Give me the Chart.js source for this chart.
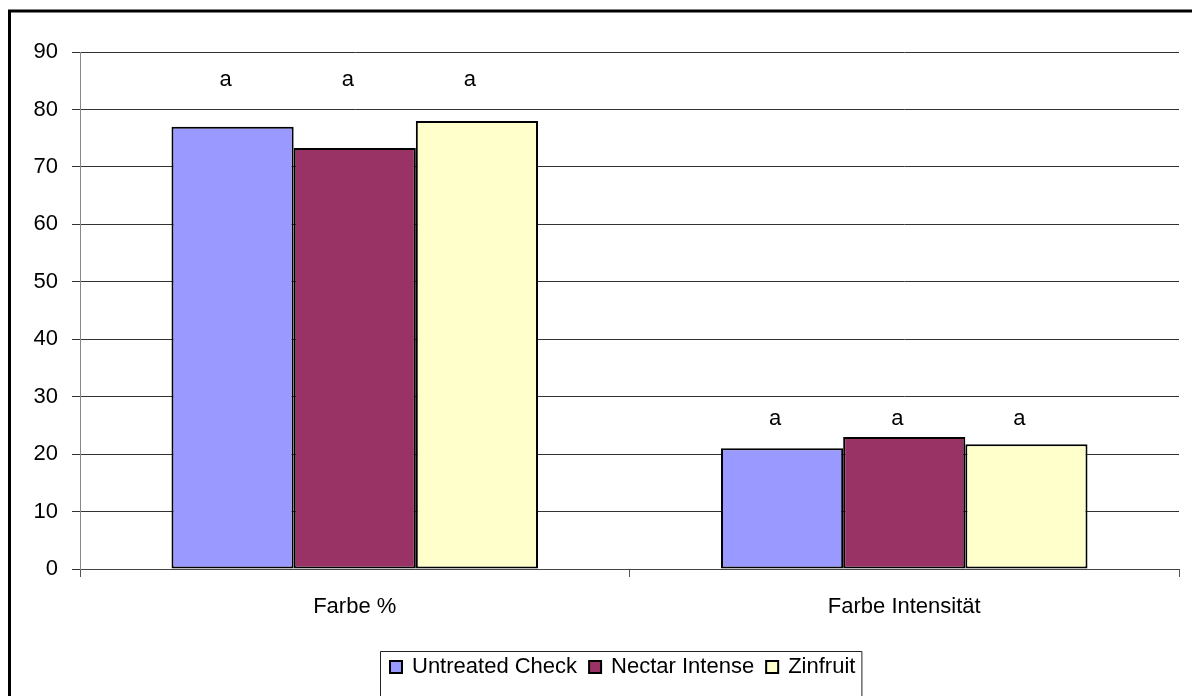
<!DOCTYPE html>
<html>
<head>
<meta charset="utf-8">
<script src="https://cdn.jsdelivr.net/npm/chart.js@4.4.1/dist/chart.umd.min.js"></script>
<style>
  html, body { margin: 0; padding: 0; background: #fff; overflow: hidden; }
  #wrap { width: 1192px; height: 696px; position: relative; overflow: hidden; }
  canvas { display: block; }
</style>
</head>
<body>
<div id="wrap"><canvas id="c" width="1192" height="696"></canvas></div>
<script>
// Categories and series
const categories = ['Farbe %', 'Farbe Intensität'];
const untreatedCheck = [77.0, 21.0];
const nectarIntense = [73.3, 23.0];
const zinfruit = [78.0, 21.7];
const seriesNames = ['Untreated Check', 'Nectar Intense', 'Zinfruit'];
const seriesColors = ['#9999FF', '#993366', '#FFFFCC'];
// Significance letters per series / category, and the height (in axis units) they sit at
const letters = [['a', 'a'], ['a', 'a'], ['a', 'a']];
const letterLevel = [84.8, 25.8];
const yTicks = [0, 10, 20, 30, 40, 50, 60, 70, 80, 90];

const FONT = 'Liberation Sans, Arial, sans-serif';
const FSIZE = 22;

const decor = {
  id: 'decor',
  afterDatasetsDraw(chart) {
    const ctx = chart.ctx;
    const y = chart.scales.y;
    ctx.save();
    // letters above each bar
    ctx.font = FSIZE + 'px ' + FONT;
    ctx.fillStyle = '#000';
    ctx.textAlign = 'center';
    ctx.textBaseline = 'middle';
    chart.data.datasets.forEach((ds, i) => {
      const meta = chart.getDatasetMeta(i);
      meta.data.forEach((bar, j) => {
        ctx.fillText(letters[i][j], bar.x - 7, y.getPixelForValue(letterLevel[j]) - 2);
      });
    });
    ctx.restore();
  },
  afterDraw(chart) {
    const ctx = chart.ctx;
    ctx.save();
    // outer frame: left and top edges
    ctx.strokeStyle = '#000';
    ctx.lineWidth = 3;
    ctx.beginPath();
    ctx.moveTo(9.5, 700);
    ctx.lineTo(9.5, 11);
    ctx.lineTo(1210, 11);
    ctx.stroke();

    // legend box
    ctx.font = FSIZE + 'px ' + FONT;
    ctx.textBaseline = 'middle';
    ctx.textAlign = 'left';
    const cy = 667;
    const sq = 12;
    let xx = 390;
    const items = chart.data.datasets.map(d => ({ label: d.label, color: d.backgroundColor }));
    const parts = [];
    items.forEach((it) => {
      const w = ctx.measureText(it.label).width;
      parts.push({ x: xx, w, it });
      xx += sq + 10 + w + 12;
    });
    const boxL = 380.5, boxR = xx - 12 + 6.5;
    ctx.strokeStyle = '#222';
    ctx.lineWidth = 1;
    ctx.fillStyle = '#fff';
    ctx.beginPath();
    ctx.rect(boxL, 651.5, boxR - boxL, 60);
    ctx.fill();
    ctx.stroke();
    parts.forEach(p => {
      ctx.fillStyle = p.it.color;
      ctx.fillRect(p.x, cy - sq / 2, sq, sq);
      ctx.strokeStyle = '#000';
      ctx.lineWidth = 2;
      ctx.strokeRect(p.x, cy - sq / 2, sq, sq);
      ctx.fillStyle = '#000';
      ctx.fillText(p.it.label, p.x + sq + 10, cy);
    });
    ctx.restore();
  }
};

new Chart(document.getElementById('c'), {
  type: 'bar',
  data: {
    labels: categories,
    datasets: [
      { label: seriesNames[0], data: untreatedCheck, backgroundColor: seriesColors[0] },
      { label: seriesNames[1], data: nectarIntense, backgroundColor: seriesColors[1] },
      { label: seriesNames[2], data: zinfruit, backgroundColor: seriesColors[2] }
    ].map(d => Object.assign(d, { borderColor: '#000', borderWidth: 2, borderSkipped: false }))
  },
  options: {
    responsive: false,
    animation: false,
    devicePixelRatio: 1,
    layout: { padding: { top: 52, right: 13, left: 0, bottom: 0 } },
    datasets: { bar: { categoryPercentage: 0.667, barPercentage: 1.0 } },
    plugins: {
      legend: { display: false },
      tooltip: { enabled: false }
    },
    scales: {
      x: {
        afterFit(s) { s.height = 127; },
        grid: { display: true, drawOnChartArea: false, tickLength: 8, color: '#555', offset: true },
        border: { display: true, color: '#444', width: 1 },
        ticks: { color: '#000', font: { family: FONT, size: FSIZE }, padding: 17 }
      },
      y: {
        min: 0, max: 90,
        afterFit(s) { s.width = 80; },
        afterBuildTicks(s) { s.ticks = yTicks.map(v => ({ value: v })); },
        grid: { color: '#333', lineWidth: 1, tickLength: 8 },
        border: { display: true, color: '#888', width: 1 },
        ticks: { color: '#000', font: { family: FONT, size: FSIZE }, padding: 14 }
      }
    }
  },
  plugins: [decor]
});
</script>
</body>
</html>
